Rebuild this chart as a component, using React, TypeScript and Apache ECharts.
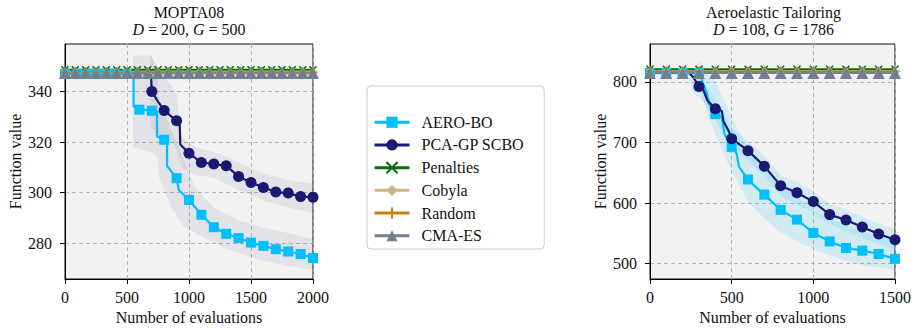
import React, { useEffect, useRef } from 'react';
import * as echarts from 'echarts';

const SERIF = '"Liberation Serif", "DejaVu Serif", serif';
const FS = 16;

const METHODS = ['AERO-BO', 'PCA-GP SCBO', 'Penalties', 'Cobyla', 'Random', 'CMA-ES'];

const COLORS: Record<string, string> = {
  'AERO-BO': '#00BFFF',
  'PCA-GP SCBO': '#191970',
  Penalties: '#0a700a',
  Cobyla: '#D2B48C',
  Random: '#B8860B',
  'CMA-ES': '#708090',
};

const SYMBOLS: Record<string, string> = {
  'AERO-BO': 'rect',
  'PCA-GP SCBO': 'circle',
  Penalties: 'path://M0,0L10,10M10,0L0,10',
  Cobyla: 'diamond',
  Random: 'path://M5,0L5,10M0,5L10,5',
  'CMA-ES': 'triangle',
};

const SIZES: Record<string, number | number[]> = {
  'AERO-BO': 10,
  'PCA-GP SCBO': 11,
  Penalties: 7,
  Cobyla: [8, 13],
  Random: 9,
  'CMA-ES': 12,
};

// ---- MOPTA08 (D = 200, G = 500) ----
const MOPTA_AERO: [number, number][] = [
  [0, 347.0], [100, 347.0], [200, 347.0], [300, 347.0], [400, 347.0], [500, 347.0],
  [553, 347.0], [553, 334.1], [600, 332.8], [700, 332.4], [742, 332.2], [742, 322.2],
  [800, 320.9], [823, 320.5], [823, 310.5], [900, 305.7], [918, 301.0], [1000, 297.1],
  [1100, 291.2], [1200, 286.3], [1300, 283.7], [1400, 282.0], [1500, 280.2],
  [1600, 278.9], [1700, 277.6], [1800, 276.7], [1900, 275.7], [2000, 274.1],
];
const MOPTA_AERO_MARKS = [0, 100, 200, 300, 400, 500, 600, 700, 800, 900, 1000, 1100, 1200, 1300, 1400, 1500, 1600, 1700, 1800, 1900, 2000];

const MOPTA_PCA: [number, number][] = [
  [0, 347.3], [693, 347.3], [700, 340.0], [750, 336.0], [800, 332.5], [900, 328.4],
  [925, 327.5], [930, 319.0], [1000, 315.6], [1100, 311.9], [1200, 311.3], [1300, 310.6],
  [1400, 306.4], [1500, 304.0], [1600, 302.0], [1700, 300.2], [1800, 299.8],
  [1900, 298.4], [2000, 298.2],
];
const MOPTA_PCA_MARKS = [700, 800, 900, 1000, 1100, 1200, 1300, 1400, 1500, 1600, 1700, 1800, 1900, 2000];

const MOPTA_BASE_X = [0, 83, 167, 250, 333, 417, 500, 583, 667, 750, 833, 917, 1000, 1083, 1167, 1250, 1333, 1417, 1500, 1583, 1667, 1750, 1833, 1917, 2000];
const MOPTA_BASE: Record<string, number> = { Penalties: 348.6, Cobyla: 347.2, Random: 347.6, 'CMA-ES': 347.3 };

// [evaluations, lower, upper]
const MOPTA_AERO_BAND: [number, number, number][] = [
  [0, 346, 348.5], [545, 346, 348.5], [548, 318, 354.2], [700, 316, 354.2], [745, 314, 345],
  [760, 306, 336], [850, 295, 326], [950, 287, 314], [1050, 284, 302], [1200, 280, 294],
  [1400, 276, 289], [1600, 273, 286], [1800, 271, 284], [2000, 269.5, 281.5],
];
const MOPTA_PCA_BAND: [number, number, number][] = [
  [0, 346, 348.5], [685, 346, 348.5], [690, 326, 354.2], [800, 322, 346], [900, 318, 339],
  [940, 310, 322], [1050, 307, 318], [1200, 306, 316], [1400, 301, 312], [1600, 297, 307.5],
  [1800, 294, 305], [2000, 292, 303.5],
];

// ---- Aeroelastic Tailoring (D = 108, G = 1786) ----
const TAIL_AERO: [number, number][] = [
  [0, 815], [100, 815], [200, 815], [300, 815], [315, 815], [320, 800], [350, 780],
  [360, 765], [400, 747], [440, 742], [455, 715], [500, 692.7], [530, 682], [545, 660],
  [600, 639], [650, 626], [700, 614], [800, 588.8], [900, 572.7], [1000, 550.7],
  [1100, 536.8], [1200, 526], [1300, 521.5], [1400, 516], [1500, 508],
];
const TAIL_AERO_MARKS = [0, 100, 200, 300, 400, 500, 600, 700, 800, 900, 1000, 1100, 1200, 1300, 1400, 1500];

const TAIL_PCA: [number, number][] = [
  [0, 815], [240, 815], [265, 808], [300, 792.7], [330, 785], [350, 770], [400, 755.9],
  [440, 752], [450, 735], [480, 720], [500, 706.4], [600, 686.6], [700, 661], [800, 628.8],
  [900, 617], [1000, 602.5], [1100, 581], [1200, 572], [1300, 560.6], [1400, 549], [1500, 539.6],
];
const TAIL_PCA_MARKS = [300, 400, 500, 600, 700, 800, 900, 1000, 1100, 1200, 1300, 1400, 1500];

const TAIL_BASE_X = [0, 100, 200, 300, 400, 500, 600, 700, 800, 900, 1000, 1100, 1200, 1300, 1400, 1500];
const TAIL_BASE: Record<string, number> = { Penalties: 821, Cobyla: 816, Random: 817.5, 'CMA-ES': 815 };

const TAIL_AERO_BAND: [number, number, number][] = [
  [0, 812, 818], [290, 812, 818], [300, 790, 836], [400, 712, 800], [500, 652, 742],
  [600, 602, 690], [700, 575, 660], [800, 552, 632], [900, 537, 610], [1000, 524, 588],
  [1100, 513, 575], [1200, 505, 563], [1300, 498, 553], [1400, 494, 545], [1500, 490, 538],
];
const TAIL_PCA_BAND: [number, number, number][] = [
  [0, 812, 818], [230, 812, 818], [260, 785, 820], [300, 775, 812], [400, 738, 772],
  [500, 692, 724], [600, 670, 702], [700, 644, 678], [800, 612, 646], [900, 598, 634],
  [1000, 584, 620], [1100, 565, 598], [1200, 554, 590], [1300, 543, 578], [1400, 532, 566],
  [1500, 522, 557],
];

const MOPTA_Y_TICKS = [280, 300, 320, 340];
const TAIL_Y_TICKS = [500, 600, 700, 800];

// Shaded spread around a mean curve, drawn as one polygon through the axis scales.
function bandSeries(id: string, pts: [number, number, number][], axis: number, color: string) {
  return {
    type: 'custom',
    name: id,
    xAxisIndex: axis,
    yAxisIndex: axis,
    silent: true,
    clip: true,
    data: pts.map((p) => [p[0], p[1], p[2]]),
    encode: { x: 0, y: [1, 2] },
    renderItem: (params: any, api: any) => {
      if (params.dataIndex !== 0) return null;
      const upper = pts.map((p) => api.coord([p[0], p[2]]));
      const lower = pts
        .slice()
        .reverse()
        .map((p) => api.coord([p[0], p[1]]));
      return {
        type: 'polygon',
        shape: { points: upper.concat(lower) },
        style: { fill: color, stroke: 'none' },
      };
    },
  };
}

function methodStyle(name: string) {
  const color = COLORS[name];
  const isPath = SYMBOLS[name].startsWith('path://');
  return {
    name,
    type: 'line',
    symbol: SYMBOLS[name],
    symbolSize: SIZES[name],
    symbolKeepAspect: true,
    showSymbol: true,
    showAllSymbol: true,
    color,
    lineStyle: { color, width: 2.2 },
    itemStyle: isPath
      ? { color, borderColor: color, borderWidth: 1.6 }
      : { color, borderWidth: 0 },
    emphasis: { disabled: true },
    silent: true,
  };
}

function traceSeries(name: string, pts: [number, number][], marks: number[], axis: number) {
  return {
    ...methodStyle(name),
    xAxisIndex: axis,
    yAxisIndex: axis,
    data: pts.map(([x, y]) => (marks.includes(x) ? [x, y] : { value: [x, y], symbol: 'none' })),
  };
}

function baseSeries(name: string, xs: number[], value: number, axis: number) {
  return {
    ...methodStyle(name),
    xAxisIndex: axis,
    yAxisIndex: axis,
    data: xs.map((x) => [x, value]),
  };
}

const axisText = { fontFamily: SERIF, fontSize: FS, color: '#111' };
const dashed = { show: true, lineStyle: { color: '#b5b5b5', type: [4, 3] as number[], width: 1 } };

function xAxis(gridIndex: number, max: number) {
  return {
    type: 'value',
    gridIndex,
    min: 0,
    max,
    interval: 500,
    name: 'Number of evaluations',
    nameLocation: 'middle',
    nameGap: 30,
    nameTextStyle: { ...axisText },
    axisLine: { show: true, onZero: false, lineStyle: { color: '#000', width: 1 } },
    axisTick: { show: true, length: 5, lineStyle: { color: '#000' } },
    axisLabel: { ...axisText, margin: 10, formatter: (v: number) => String(v) },
    splitLine: dashed,
  };
}

function yAxis(gridIndex: number, min: number, max: number, ticks: number[]) {
  return {
    type: 'value',
    gridIndex,
    min,
    max,
    name: 'Function value',
    nameLocation: 'middle',
    nameGap: 42,
    nameTextStyle: { ...axisText },
    axisLine: { show: true, onZero: false, lineStyle: { color: '#000', width: 1 } },
    axisTick: { show: true, length: 5, lineStyle: { color: '#000' }, customValues: ticks },
    axisLabel: { ...axisText, margin: 13, customValues: ticks, formatter: (v: number) => String(v) },
    splitLine: dashed,
  };
}

function titleText(x: number, y: number, text: string) {
  return {
    type: 'text',
    x,
    y,
    silent: true,
    style: {
      text,
      fontFamily: SERIF,
      fontSize: FS,
      fill: '#111',
      align: 'center',
      verticalAlign: 'middle',
      rich: { i: { fontFamily: SERIF, fontSize: FS, fontStyle: 'italic', fill: '#111' } },
    },
  };
}

export default function App() {
  const ref = useRef<HTMLDivElement>(null);

  useEffect(() => {
    document.body.style.margin = '0';
    if (!ref.current) return;
    const chart = echarts.init(ref.current, undefined, { renderer: 'svg' });

    const bandLeft = 'rgba(25,25,112,0.07)';
    const bandRight = 'rgba(0,191,255,0.13)';

    const series: any[] = [
      bandSeries('mopta-aero', MOPTA_AERO_BAND, 0, bandLeft),
      bandSeries('mopta-pca', MOPTA_PCA_BAND, 0, bandLeft),
      bandSeries('tail-aero', TAIL_AERO_BAND, 1, bandRight),
      bandSeries('tail-pca', TAIL_PCA_BAND, 1, bandRight),
      traceSeries('AERO-BO', MOPTA_AERO, MOPTA_AERO_MARKS, 0),
      traceSeries('PCA-GP SCBO', MOPTA_PCA, MOPTA_PCA_MARKS, 0),
      traceSeries('AERO-BO', TAIL_AERO, TAIL_AERO_MARKS, 1),
      traceSeries('PCA-GP SCBO', TAIL_PCA, TAIL_PCA_MARKS, 1),
    ];
    ['Penalties', 'Cobyla', 'Random', 'CMA-ES'].forEach((m) => {
      series.push(baseSeries(m, MOPTA_BASE_X, MOPTA_BASE[m], 0));
      series.push(baseSeries(m, TAIL_BASE_X, TAIL_BASE[m], 1));
    });

    chart.setOption({
      animation: false,
      backgroundColor: '#ffffff',
      textStyle: { fontFamily: SERIF, fontSize: FS, color: '#111' },
      grid: [
        { left: 65, top: 44, width: 248, height: 235, show: true, backgroundColor: '#f2f2f2', borderColor: '#111', borderWidth: 1 },
        { left: 650, top: 44, width: 247, height: 235, show: true, backgroundColor: '#f2f2f2', borderColor: '#111', borderWidth: 1 },
      ],
      xAxis: [xAxis(0, 2000), xAxis(1, 1500)],
      yAxis: [yAxis(0, 265.8, 358.8, MOPTA_Y_TICKS), yAxis(1, 474.7, 862.7, TAIL_Y_TICKS)],
      legend: {
        data: METHODS,
        orient: 'vertical',
        left: 367,
        top: 86,
        padding: [28, 20, 5, 6],
        itemGap: 6.2,
        itemWidth: 35,
        itemHeight: 14,
        backgroundColor: '#ffffff',
        borderColor: '#cccccc',
        borderWidth: 1,
        borderRadius: 4,
        selectedMode: false,
        lineStyle: { width: 3 },
        textStyle: { fontFamily: SERIF, fontSize: FS, color: '#111', padding: [0, 0, 0, 7], lineHeight: 16.5 },
      },
      graphic: [
        titleText(189, 12, 'MOPTA08'),
        titleText(189, 29, '{i|D} = 200, {i|G} = 500'),
        titleText(773.5, 12, 'Aeroelastic Tailoring'),
        titleText(773.5, 29, '{i|D} = 108, {i|G} = 1786'),
        titleText(455, 100, 'Method'),
        {
          type: 'line',
          silent: true,
          shape: { x1: 430, y1: 108.5, x2: 480, y2: 108.5 },
          style: { stroke: '#111', lineWidth: 1 },
        },
      ],
      series,
    });

    return () => chart.dispose();
  }, []);

  return <div ref={ref} style={{ width: 914, height: 331 }} />;
}
